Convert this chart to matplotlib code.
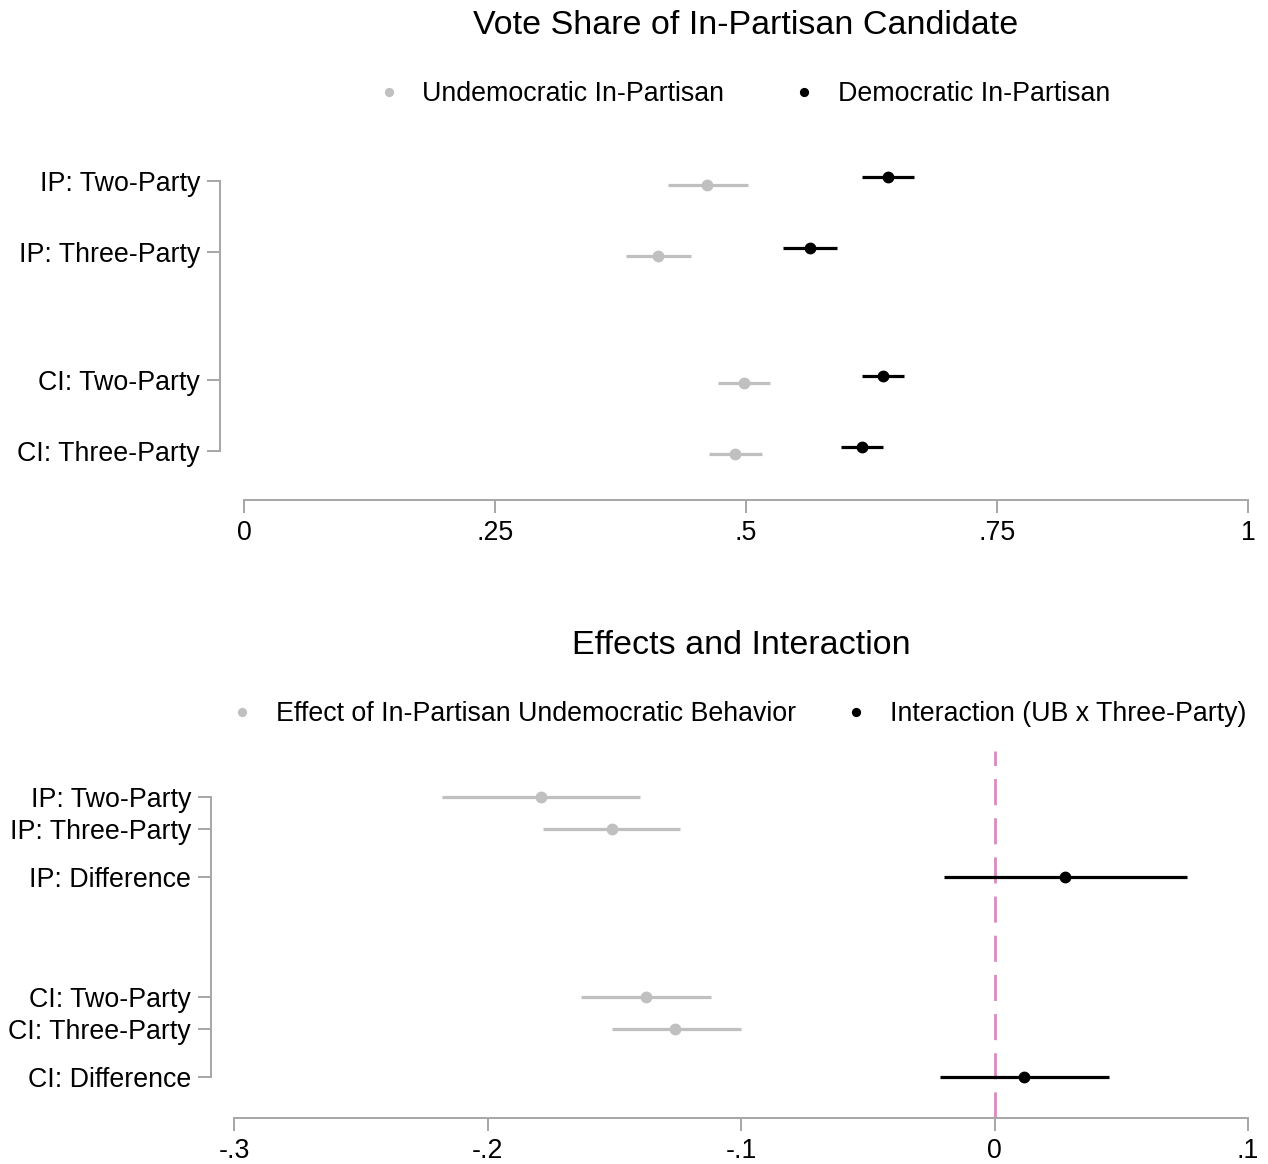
import numpy as np
import matplotlib
matplotlib.use("Agg")
from matplotlib import pyplot as plt
from matplotlib.transforms import blended_transform_factory

plt.rcParams['font.family'] = ['Liberation Sans', 'DejaVu Sans']

# ---- data: top panel (vote share) ----
top_labels = ["IP: Two-Party", "IP: Three-Party", "CI: Two-Party", "CI: Three-Party"]
top_pos = [1, 2, 3.8, 4.8]
undem_est = [0.461, 0.412, 0.498, 0.489]
undem_lo = [0.422, 0.380, 0.472, 0.463]
undem_hi = [0.502, 0.445, 0.524, 0.516]
dem_est = [0.641, 0.564, 0.636, 0.616]
dem_lo = [0.616, 0.537, 0.616, 0.595]
dem_hi = [0.667, 0.591, 0.657, 0.636]
top_xticks = [0, 0.25, 0.5, 0.75, 1]
top_xticklabels = ["0", ".25", ".5", ".75", "1"]

# ---- data: bottom panel (effects) ----
bot_labels = ["IP: Two-Party", "IP: Three-Party", "IP: Difference",
              "CI: Two-Party", "CI: Three-Party", "CI: Difference"]
eff_pos = [1, 2, 7.25, 8.25]
eff_est = [-0.179, -0.151, -0.1375, -0.126]
eff_lo = [-0.218, -0.178, -0.163, -0.151]
eff_hi = [-0.140, -0.124, -0.112, -0.100]
int_pos = [3.5, 9.75]
int_est = [0.028, 0.0116]
int_lo = [-0.020, -0.0215]
int_hi = [0.076, 0.045]
bot_pos = [1, 2, 3.5, 7.25, 8.25, 9.75]
bot_xticks = [-0.3, -0.2, -0.1, 0, 0.1]
bot_xticklabels = ["-.3", "-.2", "-.1", "0", ".1"]

GREY = "#c0c0c0"
SPINE = "#a6a6a6"
PINK = "#d98bc0"
FS = 19.3
PX = 72 / 100  # points per pixel

fig = plt.figure(figsize=(12.68, 11.64), dpi=100)
ax1 = fig.add_axes([244/1268, 1-500/1164, 1004/1268, 367/1164])
ax2 = fig.add_axes([234/1268, 1-1118/1164, 1014/1268, 367/1164])


def style(ax, ypos, ylabels, xt, xtl, xlim, ylim, out):
    for s in ["top", "right"]:
        ax.spines[s].set_visible(False)
    # spine position first: it resets the ticks
    ax.spines["left"].set_position(("outward", out * PX))
    ax.spines["left"].set_bounds(ypos[0], ypos[-1])
    for s in ["left", "bottom"]:
        ax.spines[s].set_color(SPINE)
        ax.spines[s].set_linewidth(1.4)
    ax.set_xlim(*xlim)
    ax.set_ylim(*ylim)
    ax.set_yticks(ypos)
    ax.set_yticklabels(ylabels)
    ax.set_xticks(xt)
    ax.set_xticklabels(xtl)
    ax.tick_params(axis="both", length=13 * PX, width=1.4, color=SPINE,
                   labelsize=FS)
    ax.tick_params(axis="y", pad=7 * PX)
    ax.tick_params(axis="x", pad=7.5 * PX)


# top panel
off_g, off_b = 0.05, -0.06
yg = np.array(top_pos) + off_g
yb = np.array(top_pos) + off_b
ax1.hlines(yg, undem_lo, undem_hi, color=GREY, lw=2.3)
ax1.plot(undem_est, yg, "o", color=GREY, ms=7.5, label="Undemocratic In-Partisan")
ax1.hlines(yb, dem_lo, dem_hi, color="black", lw=2.3)
ax1.plot(dem_est, yb, "o", color="black", ms=7.5, label="Democratic In-Partisan")
style(ax1, top_pos, top_labels, top_xticks, top_xticklabels, (0, 1),
      (1 + 319/71, 1 - 48/71), 24)

# bottom panel
ax2.axvline(0, color=PINK, lw=2, ls=(0, (9.4, 4.7)), zorder=1)
ax2.hlines(eff_pos, eff_lo, eff_hi, color=GREY, lw=2.3, zorder=2)
ax2.plot(eff_est, eff_pos, "o", color=GREY, ms=7.5, zorder=3,
         label="Effect of In-Partisan Undemocratic Behavior")
ax2.hlines(int_pos, int_lo, int_hi, color="black", lw=2.3, zorder=2)
ax2.plot(int_est, int_pos, "o", color="black", ms=7.5, zorder=3,
         label="Interaction (UB x Three-Party)")
style(ax2, bot_pos, bot_labels, bot_xticks, bot_xticklabels, (-0.3, 0.1),
      (1 + 321/32, 1 - 46/32), 23)

# titles and legends
for ax, title, ty, ly, cs in [(ax1, "Vote Share of In-Partisan Candidate", 1-26/1164, 1-94/1164, 2.75),
                              (ax2, "Effects and Interaction", 1-645/1164, 1-714/1164, 2.0)]:
    tr = blended_transform_factory(ax.transAxes, fig.transFigure)
    ax.text(0.5, ty, title, transform=tr, ha="center", va="center", fontsize=24.5)
    ax.legend(loc="center", bbox_to_anchor=(0.5, ly), bbox_transform=tr,
              ncol=2, frameon=False, fontsize=FS, markerscale=0.75,
              handlelength=0.5, handletextpad=1.0, columnspacing=cs,
              borderaxespad=0, borderpad=0)

fig.savefig("out.png", dpi=100)
